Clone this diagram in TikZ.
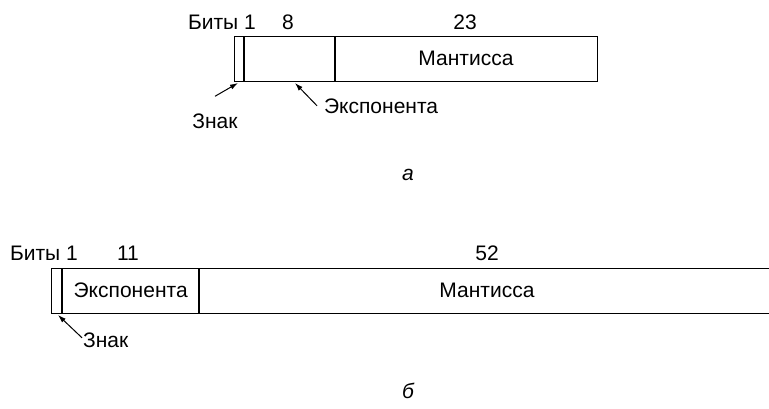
\documentclass[tikz,border=0pt]{standalone}
\usepackage{fontspec}
\setmainfont{Liberation Sans}
\usetikzlibrary{arrows.meta, positioning}

\begin{document}
\begin{tikzpicture}[
  x=0.5pt, y=-0.5pt,
  every node/.style={font=\fontsize{10.5}{12}\selectfont},
  field/.style={draw, line width=0.5pt, inner sep=0pt, outer sep=0pt, minimum height=22.5pt},
  divider/.style={line width=1pt},
  pointer/.style={-{Latex[length=4pt, width=2.6pt]}, line width=0.5pt},
  bits/.style={anchor=base}
]
\useasboundingbox (0,0) rectangle (769,408);

% (a) single precision
\node[field, anchor=north west, minimum width=5.15pt] (signA) at (234,36) {};
\node[field, right=0pt of signA, minimum width=45.35pt] (expA) {};
\node[field, right=0pt of expA, minimum width=131pt] (mantA) {Мантисса};
\draw[divider] (signA.north east) -- (signA.south east);
\draw[divider] (expA.north east) -- (expA.south east);

\node[bits, anchor=base west] (bitsA) at (181,29) {Биты 1};
\node[bits] (eightA) at (288,29) {8};
\node[bits] (twentythreeA) at (465,29) {23};

\node[anchor=base] (signLblA) at (215,128) {Знак};
\node[anchor=base west] (expLblA) at (317,113) {Экспонента};
\coordinate (signTipA) at (238,83);
\coordinate (expTipA) at (295,83);
\draw[pointer] ([yshift=5pt]signLblA.north) -- (signTipA);
\draw[pointer] (expLblA.west) -- (expTipA);

\node[anchor=base] (capA) at (408,180) {\itshape а};

% (b) double precision
\node[field, anchor=north west, minimum width=5.3pt] (signB) at (51.7,268) {};
\node[field, right=0pt of signB, minimum width=68.35pt] (expB) {Экспонента};
\node[field, right=0pt of expB, minimum width=288pt] (mantB) {Мантисса};
\draw[divider] (signB.north east) -- (signB.south east);
\draw[divider] (expB.north east) -- (expB.south east);

\node[bits, anchor=base west] (bitsB) at (3,260) {Биты 1};
\node[bits] (elevenB) at (128,260) {11};
\node[bits] (fiftytwoB) at (487,260) {52};

\node[anchor=base west] (signLblB) at (76,347) {Знак};
\coordinate (signTipB) at (58,315);
\draw[pointer] ([xshift=3pt, yshift=1pt]signLblB.west) -- (signTipB);

\node[anchor=base] (capB) at (408,398) {\itshape б};
\end{tikzpicture}
\end{document}
